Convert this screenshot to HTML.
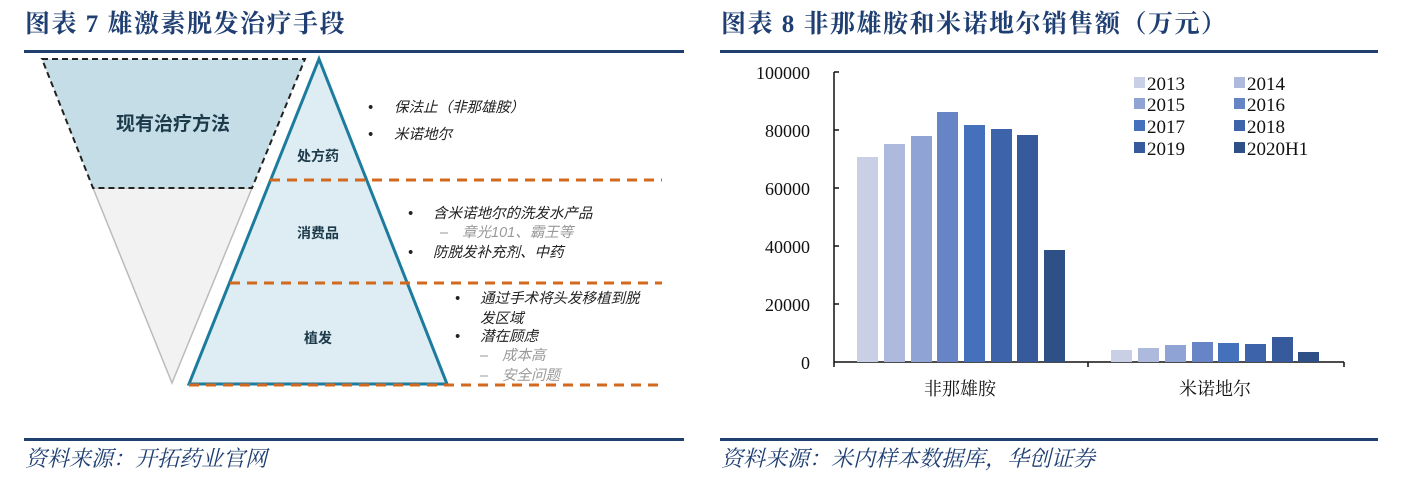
<!DOCTYPE html>
<html><head><meta charset="utf-8"><style>
html,body{margin:0;padding:0;background:#fff;}
svg{display:block;}
.t{font-family:"Liberation Serif","Noto Serif CJK SC",serif;font-weight:bold;fill:#1f3f73;font-size:25px;letter-spacing:1.5px;}
.f{font-family:"Liberation Serif","Noto Serif CJK SC",serif;font-style:italic;fill:#1f3f73;font-size:22px;}
.d{font-family:"Liberation Sans","Noto Sans CJK SC",sans-serif;font-size:14.5px;font-style:italic;fill:#222;}
.g{fill:#999;}
.lb{font-family:"Liberation Sans","Noto Sans CJK SC",sans-serif;font-size:14px;fill:#1d3a4a;font-weight:bold;}
.n{font-family:"Liberation Serif",serif;font-size:18px;fill:#111;}
.lg{font-family:"Liberation Serif",serif;font-size:19px;fill:#111;}
.c{font-family:"Liberation Serif","Noto Serif CJK SC",serif;font-size:18px;fill:#111;}
</style></head><body>
<svg width="1416" height="477" viewBox="0 0 1416 477" xmlns="http://www.w3.org/2000/svg">
<text class="t" x="25" y="32">图表 7 雄激素脱发治疗手段</text>
<text class="t" x="721" y="32">图表 8 非那雄胺和米诺地尔销售额（万元）</text>
<rect x="24" y="50" width="660" height="3" fill="#1f3f6e"/>
<rect x="720" y="50" width="658" height="3" fill="#1f3f6e"/>
<rect x="24" y="438" width="660" height="3" fill="#1f3f6e"/>
<rect x="720" y="438" width="658" height="3" fill="#1f3f6e"/>
<text class="f" x="25" y="466">资料来源：开拓药业官网</text>
<text class="f" x="721" y="466">资料来源：米内样本数据库，华创证券</text>

<polygon points="93,188 252,188 172,383" fill="#f2f2f2" stroke="#bbb" stroke-width="1.5"/>
<polygon points="42,59 305,59 252,188 93,188" fill="#c5dde7" stroke="#222" stroke-width="2" stroke-dasharray="6,4"/>
<text x="173" y="130" text-anchor="middle" style="font-family:'Liberation Sans','Noto Sans CJK SC',sans-serif;font-size:19px;fill:#1d3a4a;font-weight:bold">现有治疗方法</text>
<polygon points="319,59 447,384 189,384" fill="#deedf3" stroke="#1d7b9e" stroke-width="3"/>
<g stroke="#d2691e" stroke-width="3" stroke-dasharray="10,7">
<line x1="270" y1="180" x2="662" y2="180"/>
<line x1="230" y1="283" x2="662" y2="283"/>
<line x1="189" y1="385" x2="662" y2="385"/>
</g>
<text class="lb" x="318" y="161" text-anchor="middle">处方药</text>
<text class="lb" x="318" y="238" text-anchor="middle">消费品</text>
<text class="lb" x="318" y="343" text-anchor="middle">植发</text>
<g class="d">
<text x="368" y="112">•</text><text x="394" y="112">保法止（非那雄胺）</text>
<text x="368" y="139">•</text><text x="394" y="139">米诺地尔</text>
<text x="408" y="218">•</text><text x="433" y="218">含米诺地尔的洗发水产品</text>
<text class="d g" x="440" y="237">–</text><text class="d g" x="462" y="237">章光101、霸王等</text>
<text x="408" y="257">•</text><text x="433" y="257">防脱发补充剂、中药</text>
<text x="455" y="303">•</text><text x="480" y="303">通过手术将头发移植到脱</text>
<text x="480" y="323">发区域</text>
<text x="455" y="341">•</text><text x="480" y="341">潜在顾虑</text>
<text class="d g" x="480" y="360">–</text><text class="d g" x="502" y="360">成本高</text>
<text class="d g" x="480" y="380">–</text><text class="d g" x="502" y="380">安全问题</text>
</g>

<g class="n" text-anchor="end">
<text x="810" y="79">100000</text>
<text x="810" y="137">80000</text>
<text x="810" y="195">60000</text>
<text x="810" y="253">40000</text>
<text x="810" y="311">20000</text>
<text x="810" y="369">0</text>
</g>
<g stroke="#111" stroke-width="1.5">
<line x1="834" y1="72" x2="834" y2="367"/>
<line x1="834" y1="362" x2="1344" y2="362"/>
<line x1="834" y1="72" x2="839" y2="72"/>
<line x1="834" y1="130" x2="839" y2="130"/>
<line x1="834" y1="188" x2="839" y2="188"/>
<line x1="834" y1="246" x2="839" y2="246"/>
<line x1="834" y1="304" x2="839" y2="304"/>
<line x1="1088" y1="362" x2="1088" y2="367"/>
<line x1="1344" y1="362" x2="1344" y2="367"/>
</g>
<g>
<rect x="857" y="157" width="21" height="205" fill="#c9d0e6"/>
<rect x="884" y="144" width="21" height="218" fill="#adb9dd"/>
<rect x="911" y="136" width="21" height="226" fill="#8fa3d4"/>
<rect x="937" y="112" width="21" height="250" fill="#6785c6"/>
<rect x="964" y="125" width="21" height="237" fill="#4470bc"/>
<rect x="991" y="129" width="21" height="233" fill="#3d63ab"/>
<rect x="1017" y="135" width="21" height="227" fill="#375a9c"/>
<rect x="1044" y="250" width="21" height="112" fill="#2f4f87"/>
<rect x="1111" y="350" width="21" height="12" fill="#c9d0e6"/>
<rect x="1138" y="348" width="21" height="14" fill="#adb9dd"/>
<rect x="1165" y="345" width="21" height="17" fill="#8fa3d4"/>
<rect x="1192" y="342" width="21" height="20" fill="#6785c6"/>
<rect x="1218" y="343" width="21" height="19" fill="#4470bc"/>
<rect x="1245" y="344" width="21" height="18" fill="#3d63ab"/>
<rect x="1272" y="337" width="21" height="25" fill="#375a9c"/>
<rect x="1298" y="352" width="21" height="10" fill="#2f4f87"/>
</g>
<text class="c" x="960" y="395" text-anchor="middle">非那雄胺</text>
<text class="c" x="1215" y="395" text-anchor="middle">米诺地尔</text>
<g class="lg">
<rect x="1134" y="77" width="11" height="11" fill="#c9d0e6"/><text x="1147" y="90">2013</text>
<rect x="1234" y="77" width="11" height="11" fill="#adb9dd"/><text x="1247" y="90">2014</text>
<rect x="1134" y="98" width="11" height="11" fill="#8fa3d4"/><text x="1147" y="111">2015</text>
<rect x="1234" y="98" width="11" height="11" fill="#6785c6"/><text x="1247" y="111">2016</text>
<rect x="1134" y="120" width="11" height="11" fill="#4470bc"/><text x="1147" y="133">2017</text>
<rect x="1234" y="120" width="11" height="11" fill="#3d63ab"/><text x="1247" y="133">2018</text>
<rect x="1134" y="142" width="11" height="11" fill="#375a9c"/><text x="1147" y="155">2019</text>
<rect x="1234" y="142" width="11" height="11" fill="#2f4f87"/><text x="1247" y="155">2020H1</text>
</g>
</svg>
</body></html>
